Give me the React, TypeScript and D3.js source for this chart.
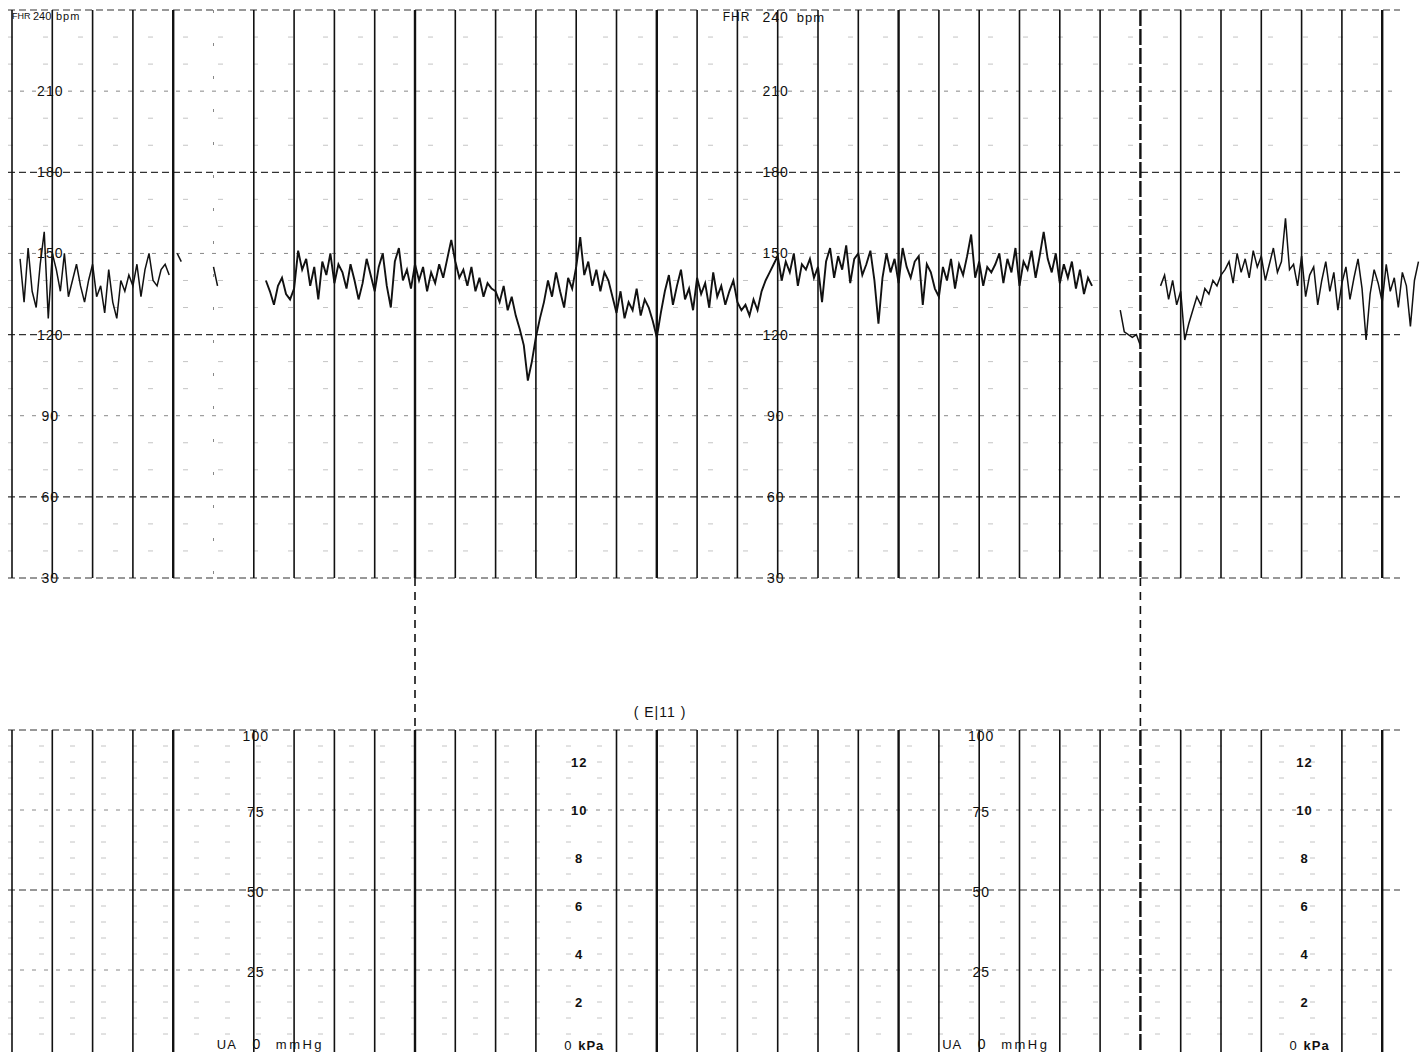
import { useEffect, useRef } from "react";
import * as d3 from "d3";

const W = 1420;
const H = 1052;

// FHR trace in bpm, one sample every 2 seconds of paper time
const fhrStep = 2;

const fhrLeftStart = 4;
const fhrLeft = [
  148, 132, 152, 136, 130, 146, 158, 126, 150, 144, 136, 150, 134, 140, 146,
  138, 132, 140, 146, 134, 138, 128, 144, 132, 126, 140, 136, 142, 138, 146,
  134, 144, 150, 140, 138, 144, 146, 142,
];

const fhrMainStart = 126;
const fhrMain = [
  140, 136, 131, 138, 141, 135, 133, 137,
  151, 144, 148, 138, 145, 133, 147, 142, 150, 139, 146,
  143, 137, 146, 140, 133, 139, 148, 142, 136, 145,
  150, 138, 130, 147, 152, 140, 144, 137, 146,
  140, 145, 136, 143, 139, 146, 141, 148, 155,
  147, 141, 144, 138, 145, 136, 141, 134, 139, 137,
  136, 132, 138, 129, 134, 127,
  122, 116, 103, 110, 119, 126,
  132, 140, 134, 143, 136, 130, 141, 137, 145,
  156, 142, 147, 138, 144, 136, 143, 140,
  134, 128, 136, 126, 132, 129, 137, 127, 133, 130, 125,
  119, 128,
  136, 142, 131, 138, 144, 133, 137, 129, 141, 135, 139, 130, 143, 134, 138,
  131, 136, 140, 132, 129,
  131, 127, 133, 129, 136, 140, 143,
  146, 149, 140, 147, 143, 150, 138, 146, 144, 148, 141, 145, 132,
  147, 152, 141, 149, 144, 153, 139, 148, 150, 142, 146, 151, 140,
  124, 141,
  150, 143, 148, 139, 152, 145, 141, 147, 149, 131, 146, 143, 137,
  134, 145, 140, 148, 137, 146, 142, 149, 157, 141, 147, 138, 145, 143,
  146, 150, 139, 148, 143, 152, 138, 147, 144, 151, 141, 149, 158,
  148, 143, 150, 139, 146, 141, 147, 137, 144, 135, 141, 138,
];

const fhrRightStart = 570;
const fhrRight = [
  138, 142, 133, 140, 131, 136,
  118, 124,
  129, 134, 131, 137, 135, 140, 138, 142,
  144, 147, 139, 150, 143, 148, 141, 151, 145, 149, 140, 146, 152, 143, 147,
  163, 144,
  146, 138, 149, 134, 142, 145, 131, 140, 147, 136, 143, 129, 139, 145, 133,
  141, 148, 137, 118, 135, 144, 139, 132, 146, 136, 141, 130, 143, 138, 123,
  140, 147,
];

// short isolated pieces of trace inside the signal gaps
const fhrBitStarts = [82, 100, 550];
const fhrBitValues = [
  [150, 147],
  [145, 138],
  [129, 121, 120, 119, 120, 116],
];

const fhrTicks = [210, 180, 150, 120, 90, 60, 30];
const uaTicks = [100, 75, 50, 25];
const kpaTicks = [12, 10, 8, 6, 4, 2];

export default function App() {
  const svgRef = useRef<SVGSVGElement>(null);

  useEffect(() => {
    const svg = d3.select(svgRef.current);
    svg.selectAll("*").remove();

    // paper time in seconds, a grid line every 20 s
    const x = d3.scaleLinear().domain([0, 700]).range([12, 12 + 40.3 * 35]);
    const yF = d3.scaleLinear().domain([30, 240]).range([578, 10]);
    const yU = d3.scaleLinear().domain([0, 100]).range([1050, 730]);
    const kpaToMmHg = 7.50062;

    const font = "'Liberation Sans', Arial, sans-serif";
    const grid = svg.append("g");

    // horizontal lines, top panel
    d3.range(30, 241, 10).forEach((v) => {
      const major = v % 60 === 0 || v === 30;
      const mid = !major && v % 30 === 0;
      grid
        .append("line")
        .attr("x1", 8)
        .attr("x2", 1400)
        .attr("y1", yF(v))
        .attr("y2", yF(v))
        .attr("stroke", major ? "#333" : mid ? "#888" : "#c4c4c4")
        .attr("stroke-width", major ? 1.2 : 1)
        .attr("stroke-dasharray", major ? "7,4" : mid ? "4,8" : "5,30");
    });

    // horizontal lines, bottom panel
    d3.range(5, 101, 5).forEach((v) => {
      const major = v % 50 === 0;
      const mid = !major && v % 25 === 0;
      grid
        .append("line")
        .attr("x1", 8)
        .attr("x2", 1400)
        .attr("y1", yU(v))
        .attr("y2", yU(v))
        .attr("stroke", major ? "#333" : mid ? "#888" : "#c4c4c4")
        .attr("stroke-width", major ? 1.2 : 1)
        .attr("stroke-dasharray", major ? "7,4" : mid ? "4,8" : "5,26");
    });

    // vertical lines
    d3.range(0, 35).forEach((k) => {
      const t = k * 20;
      const thick = k % 6 === 4;
      const dashed = k === 28;
      // top panel
      grid
        .append("line")
        .attr("x1", x(t))
        .attr("x2", x(t))
        .attr("y1", yF(240))
        .attr("y2", yF(30))
        .attr("stroke", k === 5 ? "#888" : "#111")
        .attr("stroke-width", k === 5 ? 1 : thick ? 2.4 : 1.6)
        .attr("stroke-dasharray", k === 5 ? "3,30" : dashed ? "16,3" : null);
      // bottom panel, the label columns have no line
      if (k !== 5 && k !== 14 && k !== 32) {
        grid
          .append("line")
          .attr("x1", x(t))
          .attr("x2", x(t))
          .attr("y1", yU(100))
          .attr("y2", H)
          .attr("stroke", "#111")
          .attr("stroke-width", thick ? 2.4 : 1.6)
          .attr("stroke-dasharray", dashed ? "16,3" : null);
      }
      // dashed join between the panels
      if (k === 10 || k === 28) {
        grid
          .append("line")
          .attr("x1", x(t))
          .attr("x2", x(t))
          .attr("y1", yF(30))
          .attr("y2", yU(100))
          .attr("stroke", "#111")
          .attr("stroke-width", 1.6)
          .attr("stroke-dasharray", "8,6");
      }
    });

    // FHR trace
    const drawTrace = (start: number, values: number[], w: number) => {
      const line = d3
        .line<number>()
        .x((d, i) => x(start + i * fhrStep))
        .y((d) => yF(d));
      svg
        .append("path")
        .datum(values)
        .attr("fill", "none")
        .attr("stroke", "#111")
        .attr("stroke-width", w)
        .attr("stroke-linejoin", "miter")
        .attr("d", line);
    };
    drawTrace(fhrLeftStart, fhrLeft, 1.5);
    drawTrace(fhrMainStart, fhrMain, 1.9);
    drawTrace(fhrRightStart, fhrRight, 1.5);
    fhrBitStarts.forEach((s, i) => drawTrace(s, fhrBitValues[i], 1.5));

    // labels
    const text = (
      tx: number,
      ty: number,
      s: string,
      anchor = "middle",
      size = 14,
      weight = "normal"
    ) =>
      svg
        .append("text")
        .attr("x", tx)
        .attr("y", ty)
        .attr("text-anchor", anchor)
        .attr("dominant-baseline", "central")
        .attr("font-family", font)
        .attr("font-size", size)
        .attr("font-weight", weight)
        .attr("letter-spacing", 1)
        .attr("fill", "#111")
        .text(s);

    const fhrCols = [x(20), x(380)];
    fhrCols.forEach((cx) => {
      fhrTicks.forEach((v) => text(cx - 2, yF(v), String(v)));
    });
    // top-left header, squeezed against the edge
    text(12, 16, "FHR", "start", 9).attr("letter-spacing", 0);
    text(33, 16, "240", "start", 11).attr("letter-spacing", 0);
    text(56, 16, "bpm", "start", 11).attr("letter-spacing", 1);
    text(fhrCols[1] - 55, 17, "FHR", "start", 12);
    text(fhrCols[1] - 2, 17, "240", "middle", 14);
    text(fhrCols[1] + 19, 17, "bpm", "start", 13);

    const uaCols = [x(120), x(480)];
    const kpaCols = [x(280), x(640)];
    uaCols.forEach((cx) => {
      uaTicks.forEach((v) => text(cx + 2, yU(v) + (v === 100 ? 6 : 2), String(v)));
      text(cx - 37, 1044, "UA", "start", 13);
      text(cx + 3, 1044, "0", "middle", 14);
      text(cx + 22, 1044, "mmHg", "start", 13).attr("letter-spacing", 2.5);
    });
    kpaCols.forEach((cx) => {
      kpaTicks.forEach((v) =>
        text(cx + 3, yU(v * kpaToMmHg) + 1, String(v), "middle", 13, "bold")
      );
      text(cx - 12, 1045, "0", "start", 13);
      text(cx + 2, 1045, "kPa", "start", 13, "bold");
    });
    text(660, 712, "( E|11 )", "middle", 14);
  }, []);

  return (
    <svg
      ref={svgRef}
      width={W}
      height={H}
      style={{ position: "absolute", left: 0, top: 0, background: "#fff" }}
    ></svg>
  );
}
